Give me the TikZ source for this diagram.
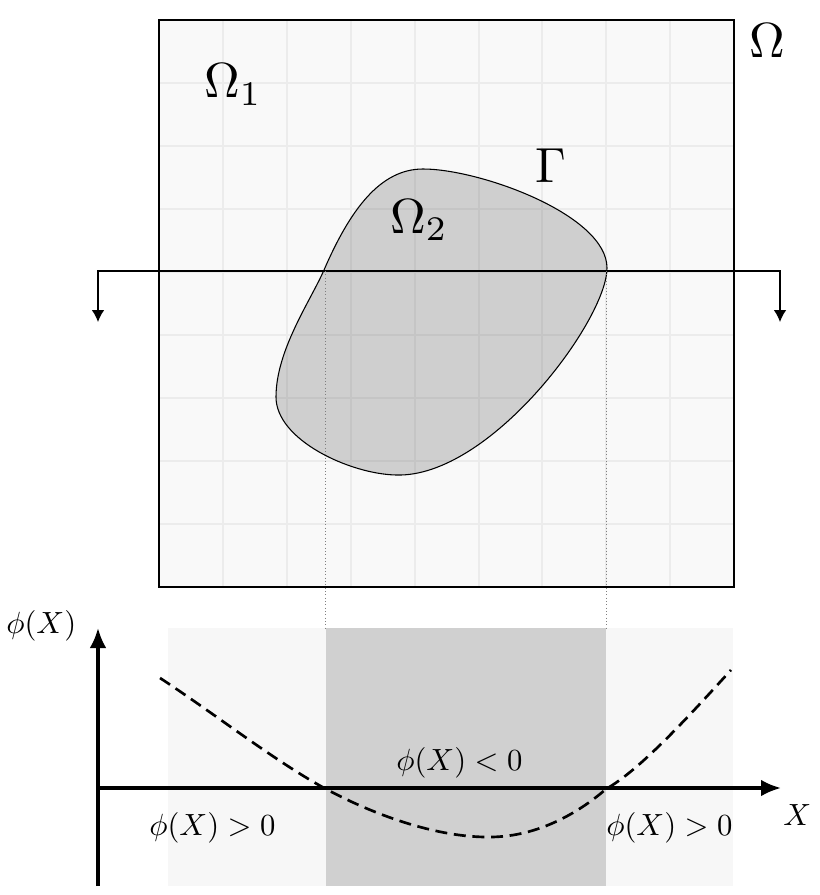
\documentclass[tikz,border=0pt]{standalone}
\usepackage{graphicx}
\usetikzlibrary{arrows.meta}

\definecolor{boxfill}{RGB}{249,249,249}
\definecolor{gridline}{RGB}{236,236,236}
\definecolor{insidegray}{RGB}{208,208,208}
\definecolor{outsidegray}{RGB}{247,247,247}

\newcommand{\bigsym}[1]{\scalebox{3.7}{$#1$}}
\newcommand{\smallsym}[1]{\scalebox{2.3}{$#1$}}

\tikzset{
  labelnode/.style={inner sep=0pt},
  axisline/.style={line width=2.3pt, -{Latex[length=15pt,width=12.5pt]}},
  cutline/.style={line width=1pt, {Latex[length=9pt,width=9.5pt]}-{Latex[length=9pt,width=9.5pt]}},
  levelset/.style={line width=2pt, dash pattern=on 9pt off 5pt},
}

\begin{document}
\begin{tikzpicture}[x=0.75pt,y=0.75pt,yscale=-1,xscale=1]
\useasboundingbox (0,0) rectangle (820,895);

%Shape: Rectangle (domain)
\fill[boxfill] (159,20) rectangle (734,587);
%Shape: Grid
\foreach \k in {1,...,8}{
  \draw[gridline, line width=1.5pt] ({159+\k*63.9},20) -- ({159+\k*63.9},587);
  \draw[gridline, line width=1.5pt] (159,{20+\k*63}) -- (734,{20+\k*63});
}
%Shape: Blob (inner region)
\draw[line width=0.8pt, fill=black, fill opacity=0.165] (423,169)
  .. controls (480,169) and (607,215) .. (607,268)
  .. controls (607,320) and (490,478) .. (396,475)
  .. controls (350,474) and (276,440) .. (276,397)
  .. controls (276,350) and (311,300) .. (324,270)
  .. controls (350,210) and (380,169) .. (423,169) -- cycle;
%Shape: Rectangle border
\draw[line width=2pt] (159,20) rectangle (734,587);

%Straight Lines (cut)
\coordinate (cutLdown) at (98,322);
\coordinate (cutL) at (98,271);
\coordinate (cutR) at (780,271);
\coordinate (cutRdown) at (780,322);
\draw[cutline] (cutLdown) -- (cutL) -- (cutR) -- (cutRdown);

%Shape: Rectangle (phi > 0)
\fill[outsidegray] (168,628) rectangle (733,886);
%Shape: Rectangle (phi < 0)
\fill[insidegray] (326,628) rectangle (606,886);

%Straight Lines (projections)
\coordinate (gammaL) at (325,271);
\coordinate (gammaR) at (606,271);
\coordinate (footL) at (325,628);
\coordinate (footR) at (606,628);
\draw[gray, line width=0.5pt, dotted] (gammaL) -- (footL);
\draw[gray, line width=0.5pt, dotted] (gammaR) -- (footR);

%Straight Lines (axes)
\coordinate (origin) at (98,788);
\coordinate (ytip) at (98,628);
\coordinate (ybottom) at (98,886);
\coordinate (xtip) at (781,788);
\draw[axisline] (ybottom) -- (ytip);
\draw[axisline] (origin) -- (xtip);

%Curve Lines (level set)
\draw[levelset] (160,678)
  .. controls (215,714) and (276,762) .. (326,789)
  .. controls (380,818) and (440,837) .. (487,837)
  .. controls (545,838) and (590,803) .. (606,789)
  .. controls (640,770) and (690,715) .. (731,670);

% Text Node
\draw (749,58) node (omega) [anchor=base west][labelnode] {\bigsym{\Omega}};
% Text Node
\draw (204,98) node (omegaone) [anchor=base west][labelnode] {\bigsym{\Omega_1}};
% Text Node
\draw (390,233) node (omegatwo) [anchor=base west][labelnode] {\bigsym{\Omega_2}};
% Text Node
\draw (535,182) node (gamma) [anchor=base west][labelnode] {\bigsym{\Gamma}};
% Text Node
\draw (6,633) node (philabel) [anchor=base west][labelnode] {\smallsym{\phi(X)}};
% Text Node
\draw (396,770) node (phineg) [anchor=base west][labelnode] {\smallsym{\phi(X) < 0}};
% Text Node
\draw (149,835) node (phiposL) [anchor=base west][labelnode] {\smallsym{\phi(X) > 0}};
% Text Node
\draw (606,835) node (phiposR) [anchor=base west][labelnode] {\smallsym{\phi(X) > 0}};
% Text Node
\draw (783,825) node (xlabel) [anchor=base west][labelnode] {\smallsym{X}};

\end{tikzpicture}
\end{document}
